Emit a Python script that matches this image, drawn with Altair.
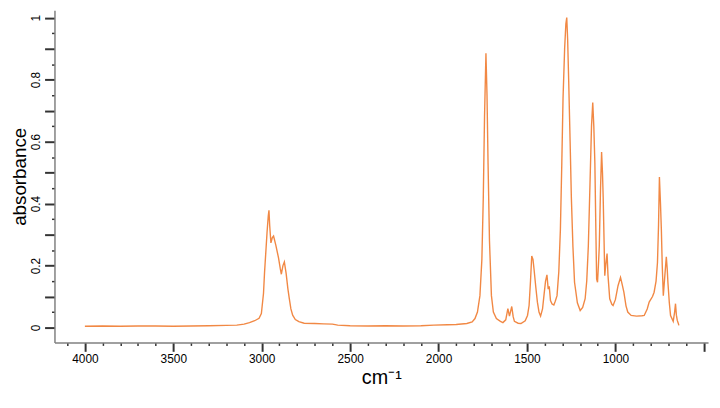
import altair as alt
import pandas as pd

wavenumber = [
    4000, 3900, 3800, 3700, 3600, 3500, 3400, 3300, 3200, 3141, 3100, 3069, 3040, 3015,
    3002, 2990, 2984, 2975, 2970, 2963, 2959, 2955, 2948, 2940, 2933, 2920, 2905, 2895,
    2889, 2880, 2872, 2862, 2852, 2844, 2835, 2825, 2810, 2790, 2760, 2700, 2650, 2600,
    2570, 2500, 2400, 2300, 2200, 2100, 2026, 1950, 1900, 1840, 1810, 1794, 1780, 1766,
    1755, 1747, 1740, 1732, 1726, 1720, 1712, 1701, 1690, 1673, 1650, 1636, 1620, 1608,
    1599, 1586, 1578, 1571, 1550, 1534, 1510, 1497, 1488, 1480, 1473, 1466, 1460, 1450,
    1441, 1432, 1423, 1412, 1404, 1395, 1387, 1380, 1374, 1367, 1358, 1348, 1340, 1330,
    1320, 1311, 1303, 1296, 1287, 1280, 1275, 1270, 1264, 1256, 1249, 1240, 1231, 1215,
    1199, 1185, 1171, 1162, 1153, 1143, 1135, 1128, 1122, 1116, 1110, 1106, 1101, 1096,
    1091, 1084, 1078, 1073, 1069, 1064, 1060, 1055, 1047, 1042, 1032, 1020, 1013, 1000,
    985, 971, 962, 952, 940, 930, 911, 880, 850, 837, 820, 809, 790, 781,
    770, 762, 756, 751, 745, 740, 735, 729, 720, 712, 707, 703, 695, 688,
    673, 665, 660, 655, 650, 645, 641,
]
absorbance = [
    0.004, 0.005, 0.004, 0.005, 0.005, 0.004, 0.005, 0.006, 0.007, 0.008, 0.011, 0.016, 0.022, 0.030,
    0.045, 0.110, 0.178, 0.260, 0.306, 0.360, 0.378, 0.330, 0.273, 0.290, 0.295, 0.265, 0.225, 0.190,
    0.172, 0.200, 0.212, 0.175, 0.125, 0.093, 0.060, 0.040, 0.026, 0.019, 0.014, 0.013, 0.012, 0.011,
    0.008, 0.006, 0.005, 0.006, 0.005, 0.006, 0.008, 0.009, 0.010, 0.013, 0.018, 0.029, 0.050, 0.103,
    0.220, 0.420, 0.680, 0.885, 0.750, 0.529, 0.280, 0.103, 0.050, 0.029, 0.020, 0.016, 0.025, 0.061,
    0.037, 0.068, 0.035, 0.020, 0.014, 0.013, 0.022, 0.039, 0.071, 0.150, 0.231, 0.220, 0.188, 0.130,
    0.082, 0.050, 0.037, 0.060, 0.103, 0.150, 0.170, 0.124, 0.133, 0.087, 0.076, 0.073, 0.085, 0.103,
    0.180, 0.316, 0.530, 0.741, 0.900, 0.980, 1.000, 0.930, 0.795, 0.600, 0.420, 0.260, 0.146, 0.080,
    0.055, 0.065, 0.093, 0.150, 0.263, 0.476, 0.650, 0.726, 0.650, 0.529, 0.300, 0.156, 0.146, 0.200,
    0.263, 0.450, 0.566, 0.500, 0.420, 0.280, 0.167, 0.200, 0.239, 0.170, 0.093, 0.075, 0.071, 0.090,
    0.135, 0.162, 0.140, 0.114, 0.070, 0.050, 0.039, 0.037, 0.038, 0.039, 0.060, 0.082, 0.100, 0.114,
    0.150, 0.210, 0.330, 0.486, 0.400, 0.316, 0.200, 0.103, 0.170, 0.228, 0.190, 0.146, 0.080, 0.039,
    0.020, 0.050, 0.077, 0.040, 0.023, 0.015, 0.007,
]

x_tick_values = list(range(500, 4101, 100))
y_tick_values = [round(i * 0.05, 2) for i in range(0, 21)]

df = pd.DataFrame({"wavenumber": wavenumber, "absorbance": absorbance})

FONT = "Liberation Sans"

x_axis = alt.Axis(
    title="cm⁻¹",
    values=x_tick_values,
    labelExpr="(datum.value % 500 === 0 && datum.value > 500) ? datum.value : ''",
    tickSize={"condition": {"test": "datum.value % 500 === 0", "value": 9}, "value": 3},
    tickWidth={"condition": {"test": "datum.value % 500 === 0", "value": 2}, "value": 1.5},
    tickColor="#333333",
    domainColor="#808080",
    domainWidth=1.5,
    labelFont=FONT,
    labelFontSize=12,
    labelColor="#000000",
    labelPadding=2,
    labelOverlap=False,
    labelFlush=False,
    titleFont=FONT,
    titleFontSize=20,
    titleFontWeight="normal",
    titleColor="#000000",
    titlePadding=4,
    grid=False,
)

y_axis = alt.Axis(
    title="absorbance",
    values=y_tick_values,
    labelExpr="abs(datum.value * 5 - round(datum.value * 5)) < 0.001 ? format(datum.value, '~g') : ''",
    tickSize={"condition": {"test": "abs(datum.value * 10 - round(datum.value * 10)) < 0.001", "value": 10}, "value": 3},
    tickWidth={"condition": {"test": "abs(datum.value * 10 - round(datum.value * 10)) < 0.001", "value": 2}, "value": 1.5},
    tickColor="#333333",
    domainColor="#808080",
    domainWidth=1.5,
    labelFont=FONT,
    labelFontSize=12,
    labelColor="#000000",
    labelAngle=270,
    labelAlign="center",
    labelBaseline="bottom",
    labelPadding=2,
    labelOverlap=False,
    labelFlush=False,
    titleFont=FONT,
    titleFontSize=19,
    titleFontWeight="normal",
    titleColor="#000000",
    titlePadding=0,
    grid=False,
)

chart = (
    alt.Chart(df)
    .mark_line(color="#F0823A", strokeWidth=1.4, opacity=0.95, clip=True)
    .encode(
        x=alt.X("wavenumber:Q", scale=alt.Scale(domain=[476, 4172], reverse=True, zero=False, nice=False), axis=x_axis),
        y=alt.Y("absorbance:Q", scale=alt.Scale(domain=[-0.048, 1.024], zero=False, nice=False), axis=y_axis),
        order="wavenumber:Q",
    )
    .properties(
        width=661,
        height=336,
        autosize=alt.AutoSizeParams(type="none"),
        padding={"left": 47, "top": 0, "right": 4, "bottom": 56},
    )
    .configure_view(stroke=None)
)

chart.save("out.html", embed_options={"renderer": "svg", "actions": False})
